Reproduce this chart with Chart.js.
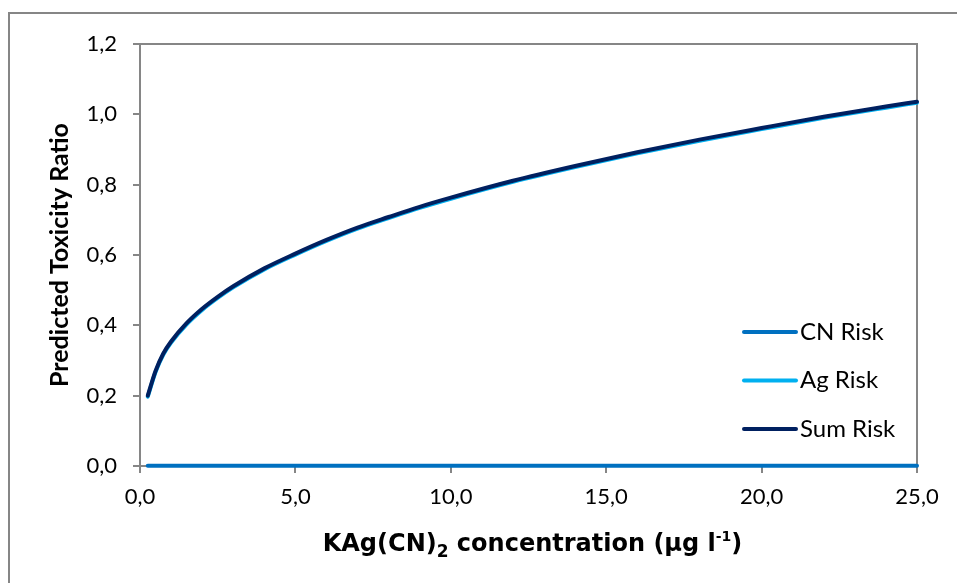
<!DOCTYPE html>
<html>
<head>
<meta charset="utf-8">
<script src="https://cdn.jsdelivr.net/npm/chart.js@4.4.1/dist/chart.umd.min.js"></script>
<style>
  html, body { margin: 0; padding: 0; background: #fff; overflow: hidden; }
  #wrap { width: 957px; height: 583px; position: relative; }
</style>
</head>
<body>
<div id="wrap"><canvas id="riskChart" width="957" height="583"></canvas></div>
<script>
// concentration values (x) and series
const concentration = [0.25, 0.5, 0.75, 1, 1.5, 2, 2.5, 3, 4, 5, 6, 7, 8, 9, 10, 12, 14, 16, 18, 20, 22, 24, 25];
const sumRisk = [0.200, 0.270, 0.320, 0.354, 0.406, 0.447, 0.481, 0.511, 0.562, 0.604, 0.643, 0.678, 0.708, 0.737, 0.763, 0.811, 0.853, 0.892, 0.928, 0.961, 0.993, 1.022, 1.036];
const agRisk = [0.197, 0.267, 0.317, 0.351, 0.403, 0.444, 0.478, 0.508, 0.559, 0.601, 0.640, 0.675, 0.705, 0.734, 0.760, 0.808, 0.850, 0.889, 0.925, 0.958, 0.990, 1.019, 1.033];
const cnRisk = [0.001, 0.001, 0.001, 0.001, 0.001, 0.001, 0.001, 0.001, 0.001, 0.001, 0.001, 0.001, 0.001, 0.001, 0.001, 0.001, 0.001, 0.001, 0.001, 0.001, 0.001, 0.001, 0.001];
const seriesNames = ['CN Risk', 'Ag Risk', 'Sum Risk'];
const xTicks = [0, 5, 10, 15, 20, 25];
const yTicks = [0, 0.2, 0.4, 0.6, 0.8, 1.0, 1.2];

const FONT = 'Lato, "Open Sans", sans-serif';
const TITLE_FONT = '"DejaVu Sans", Verdana, sans-serif';
const AXIS_GREY = '#868686';

function toPoints(values) {
    return concentration.map((x, i) => ({ x: x, y: values[i] }));
}

function comma(v) {
    return v.toFixed(1).replace('.', ',');
}

// frame round the chart and box round the plot area
const framePlugin = {
    id: 'frame',
    beforeDraw(chart) {
        const ctx = chart.ctx;
        ctx.save();
        ctx.strokeStyle = AXIS_GREY;
        ctx.lineWidth = 2;
        ctx.strokeRect(9, 13, 960, 600);
        ctx.restore();
    },
    beforeDatasetsDraw(chart) {
        const a = chart.chartArea;
        const ctx = chart.ctx;
        ctx.save();
        ctx.strokeStyle = AXIS_GREY;
        ctx.lineWidth = 2;
        ctx.strokeRect(a.left, a.top, a.right - a.left, a.bottom - a.top);
        ctx.restore();
    }
};

// legend inside the plot, bottom right
const insideLegend = {
    id: 'insideLegend',
    afterDatasetsDraw(chart) {
        const ctx = chart.ctx;
        ctx.save();
        ctx.font = '24px ' + FONT;
        ctx.textBaseline = 'middle';
        ctx.fillStyle = '#000';
        chart.data.datasets.forEach((ds, i) => {
            const y = 332 + i * 48.5;
            ctx.strokeStyle = ds.borderColor;
            ctx.lineWidth = 4;
            ctx.lineCap = 'round';
            ctx.beginPath();
            ctx.moveTo(744, y);
            ctx.lineTo(796, y);
            ctx.stroke();
            ctx.fillText(ds.label, 800, y);
        });
        ctx.restore();
    }
};

// x axis title with subscript and superscript
const xTitlePlugin = {
    id: 'xTitle',
    afterDraw(chart) {
        const ctx = chart.ctx;
        const a = chart.chartArea;
        const parts = [
            { t: 'KAg(CN)', size: 24, dy: 0 },
            { t: '2', size: 17, dy: 6 },
            { t: ' concentration (\u00b5g l', size: 24, dy: 0 },
            { t: '-1', size: 14, dy: -10 },
            { t: ')', size: 24, dy: 0 }
        ];
        ctx.save();
        ctx.fillStyle = '#000';
        ctx.textBaseline = 'alphabetic';
        let total = 0;
        parts.forEach(p => {
            ctx.font = 'bold ' + p.size + 'px ' + TITLE_FONT;
            p.w = ctx.measureText(p.t).width;
            total += p.w;
        });
        let x = (a.left + a.right) / 2 - total / 2 + 4;
        const base = 551;
        parts.forEach(p => {
            ctx.font = 'bold ' + p.size + 'px ' + TITLE_FONT;
            ctx.fillText(p.t, x, base + p.dy);
            x += p.w;
        });
        ctx.restore();
    }
};

new Chart(document.getElementById('riskChart').getContext('2d'), {
    type: 'line',
    data: {
        datasets: [
            { label: seriesNames[0], data: toPoints(cnRisk), borderColor: '#0070C0', borderWidth: 4, order: 3 },
            { label: seriesNames[1], data: toPoints(agRisk), borderColor: '#00B0F0', borderWidth: 4, order: 2 },
            { label: seriesNames[2], data: toPoints(sumRisk), borderColor: '#002060', borderWidth: 4, order: 1 }
        ]
    },
    options: {
        responsive: false,
        animation: false,
        events: [],
        layout: { padding: { left: 0, right: 40, top: 44, bottom: 0 } },
        elements: {
            point: { radius: 0 },
            line: { tension: 0.4, cubicInterpolationMode: 'monotone', borderCapStyle: 'round', borderJoinStyle: 'round', fill: false }
        },
        datasets: { line: { clip: 6 } },
        scales: {
            x: {
                type: 'linear',
                min: 0,
                max: 25,
                afterBuildTicks(scale) { scale.ticks = xTicks.map(v => ({ value: v })); },
                afterFit(scale) { scale.height = 117; },
                ticks: {
                    color: '#000',
                    font: { family: FONT, size: 22 },
                    padding: 11,
                    callback: v => comma(v)
                },
                grid: { display: true, drawOnChartArea: false, drawTicks: true, tickLength: 7, color: AXIS_GREY, lineWidth: 2 },
                border: { display: true, color: AXIS_GREY, width: 2 }
            },
            y: {
                type: 'linear',
                min: 0,
                max: 1.2,
                afterBuildTicks(scale) { scale.ticks = yTicks.map(v => ({ value: v })); },
                afterFit(scale) { scale.width = 140; },
                ticks: {
                    color: '#000',
                    font: { family: FONT, size: 22 },
                    padding: 16,
                    callback: v => comma(v)
                },
                grid: { display: true, drawOnChartArea: false, drawTicks: true, tickLength: 7, color: AXIS_GREY, lineWidth: 2 },
                border: { display: true, color: AXIS_GREY, width: 2 },
                title: {
                    display: true,
                    text: 'Predicted Toxicity Ratio',
                    color: '#000',
                    font: { family: FONT, size: 25, weight: 'bold' },
                    padding: { top: 45, bottom: 0 }
                }
            }
        },
        plugins: {
            legend: { display: false },
            tooltip: { enabled: false }
        }
    },
    plugins: [framePlugin, insideLegend, xTitlePlugin]
});
</script>
</body>
</html>
